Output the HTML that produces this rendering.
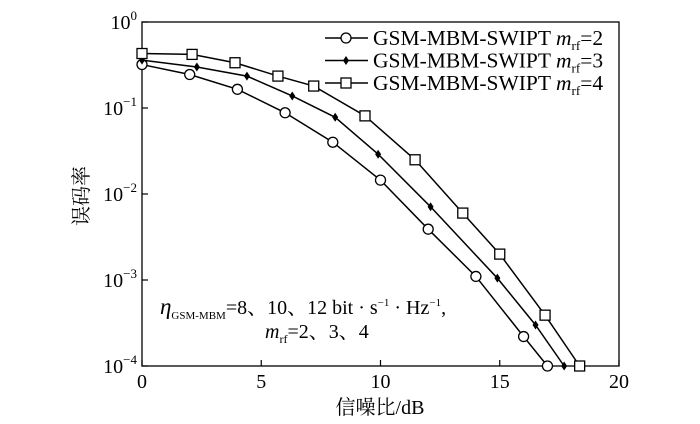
<!DOCTYPE html>
<html><head><meta charset="utf-8"><style>
html,body{margin:0;padding:0;background:#fff;}
svg{display:block;font-family:"Liberation Serif","Noto Serif CJK SC",serif;}
</style></head><body>
<svg id="c" width="700" height="424" viewBox="0 0 700 424"></svg>
<script>
const xs2=[0,2,4,6,8,10,12,14,16,17];
const ber2=[0.32,0.245,0.165,0.088,0.04,0.0145,0.0039,0.0011,0.00022,0.0001];
const xs3=[0,2.3,4.4,6.3,8.1,9.9,12.1,14.9,16.5,17.7];
const ber3=[0.36,0.3,0.235,0.138,0.078,0.029,0.0071,0.00105,0.0003,0.0001];
const xs4=[0,2.1,3.9,5.7,7.2,9.35,11.45,13.45,15,16.9,18.35];
const ber4=[0.43,0.42,0.336,0.235,0.18,0.081,0.025,0.006,0.002,0.00039,0.0001];
const xTicks=[0,5,10,15,20];
const yExps=[0,-1,-2,-3,-4];
const legendLabels=["2","3","4"];

const svg=document.getElementById('c');
const NS='http://www.w3.org/2000/svg';
const L=142,R=619,T=22,B=366;
const X=v=>L+(v/20)*(R-L);
const Y=v=>T+(-Math.log10(v)/4)*(B-T);
function mk(t,a,p){const e=document.createElementNS(NS,t);for(const k in a)e.setAttribute(k,a[k]);(p||svg).appendChild(e);return e;}

const frame=mk('rect',{x:L,y:T,width:R-L,height:B-T,fill:'none',stroke:'#000','stroke-width':1.3});



xTicks.forEach(t=>{
  const tk=mk('line',{x1:X(t),x2:X(t),y1:B,y2:B-6,stroke:'#000','stroke-width':1.2});
  
  
  const lb=mk('text',{x:X(t),y:B+22,'text-anchor':'middle','font-size':20});
  lb.textContent=t;
  
  
});
yExps.forEach(e=>{
  const y=Y(Math.pow(10,e));
  const tk=mk('line',{x1:L,x2:L+6,y1:y,y2:y,stroke:'#000','stroke-width':1.2});
  
  
  const lb=mk('text',{x:L-5,y:y+7,'text-anchor':'end','font-size':20});
  lb.innerHTML='10<tspan dy="-9" font-size="13">'+(e<0?'−'+(-e):e)+'</tspan>';
  
  
});
const xt=mk('text',{x:380,y:414,'text-anchor':'middle','font-size':20});
xt.textContent='信噪比/dB';


const yt=mk('text',{x:88,y:196,'text-anchor':'middle','font-size':20,transform:'rotate(-90 88 196)'});
yt.textContent='误码率';



function marker(kind,x,y,g){
  if(kind==='o'){const m=mk('circle',{cx:x,cy:y,r:5,fill:'#fff',stroke:'#000','stroke-width':1.3},g);}
  else if(kind==='s'){const m=mk('rect',{x:x-5,y:y-5,width:10,height:10,fill:'#fff',stroke:'#000','stroke-width':1.3},g);}
  else {const m=mk('path',{d:`M${x} ${y-4.5}L${x+3} ${y}L${x} ${y+4.5}L${x-3} ${y}Z`,fill:'#000'},g);}
}
function series(xs,ys,kind,name){
  const g=mk('g',{});
  
  
  const ln=mk('polyline',{points:xs.map((x,i)=>X(x)+','+Y(ys[i])).join(' '),fill:'none',stroke:'#000','stroke-width':1.5},g);
  
  
  xs.forEach((x,i)=>marker(kind,X(x),Y(ys[i]),g));
}
series(xs2,ber2,'o','series-mrf-2');
series(xs3,ber3,'d','series-mrf-3');
series(xs4,ber4,'s','series-mrf-4');

const kinds=['o','d','s'];
legendLabels.forEach((v,i)=>{
  const y=38+i*22.5;
  const g=mk('g',{});
  
  
  mk('line',{x1:325,x2:368,y1:y,y2:y,stroke:'#000','stroke-width':1.5},g);
  marker(kinds[i],346,y,g);
  const t=mk('text',{x:373,y:y+7,'font-size':21.5},g);
  t.innerHTML='GSM-MBM-SWIPT <tspan font-style="italic">m</tspan><tspan dy="5" font-size="13">rf</tspan><tspan dy="-5">='+v+'</tspan>';
});
const a1=mk('text',{x:160,y:314,'font-size':20});
a1.innerHTML='<tspan font-style="italic" font-size="23">η</tspan><tspan dy="5" font-size="11">GSM-MBM</tspan><tspan dy="-5">=8、10、12 bit · s</tspan><tspan dy="-8" font-size="11">−1</tspan><tspan dy="8"> · Hz</tspan><tspan dy="-8" font-size="11">−1</tspan><tspan dy="8">,</tspan>';


const a2=mk('text',{x:265,y:338,'font-size':20});
a2.innerHTML='<tspan font-style="italic">m</tspan><tspan dy="5" font-size="12">rf</tspan><tspan dy="-5">=2、3、4</tspan>';


</script>
</body></html>
